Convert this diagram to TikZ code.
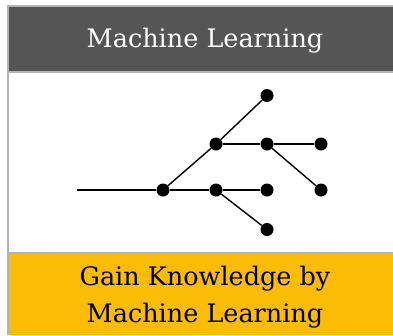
\documentclass[tikz,border=0pt]{standalone}
\usepackage{fontspec}
\setmainfont{DejaVu Serif}
\usepackage{xcolor}
\definecolor{headcolor}{HTML}{555555}
\definecolor{framecolor}{HTML}{B4B4B4}
\definecolor{gaincolor}{HTML}{FBBC05}
\usepackage{tikz}
\usetikzlibrary{positioning}

\begin{document}
\begin{tikzpicture}[x=1pt, y=-1pt,
    dot/.style={circle, fill=black, inner sep=0pt, minimum size=13pt},
    edge/.style={draw=black, line width=1.4pt},
    title/.style={font=\fontsize{25.5}{37}\selectfont, align=center}]
  \useasboundingbox (0,0) rectangle (393,335);
  % kader
  \fill[white] (0,0) rectangle (393,335);
  \fill[headcolor] (9,7) rectangle (393,70.5);
  \fill[gaincolor] (9,254) rectangle (393,335);
  \draw[framecolor, line width=2pt] (8,335) -- (8,6) -- (393,6);
  \draw[framecolor, line width=2pt] (9,71.5) -- (393,71.5);
  \draw[framecolor, line width=2pt] (9,253) -- (393,253);
  % teksten
  \node[title, white] (head) at (205,41) {Machine Learning};
  \node[title, black] (gain) at (205,297.5) {Gain Knowledge by\\Machine Learning};
  % boom
  \coordinate (root) at (76.5,190);
  \node[dot] (a) at (163,190) {};
  \node[dot] (b) at (216,144) {};
  \node[dot] (c) at (216,190) {};
  \node[dot] (d) at (267,95.5) {};
  \node[dot] (e) at (267,144) {};
  \node[dot] (f) at (321,144) {};
  \node[dot] (g) at (321,190) {};
  \node[dot] (h) at (267,190) {};
  \node[dot] (i) at (267,229.5) {};
  \draw[edge] (root) -- (a);
  \draw[edge] (a) -- (b);
  \draw[edge] (a) -- (c);
  \draw[edge] (b) -- (d);
  \draw[edge] (b) -- (e);
  \draw[edge] (e) -- (f);
  \draw[edge] (e) -- (g);
  \draw[edge] (c) -- (h);
  \draw[edge] (c) -- (i);
\end{tikzpicture}
\end{document}
